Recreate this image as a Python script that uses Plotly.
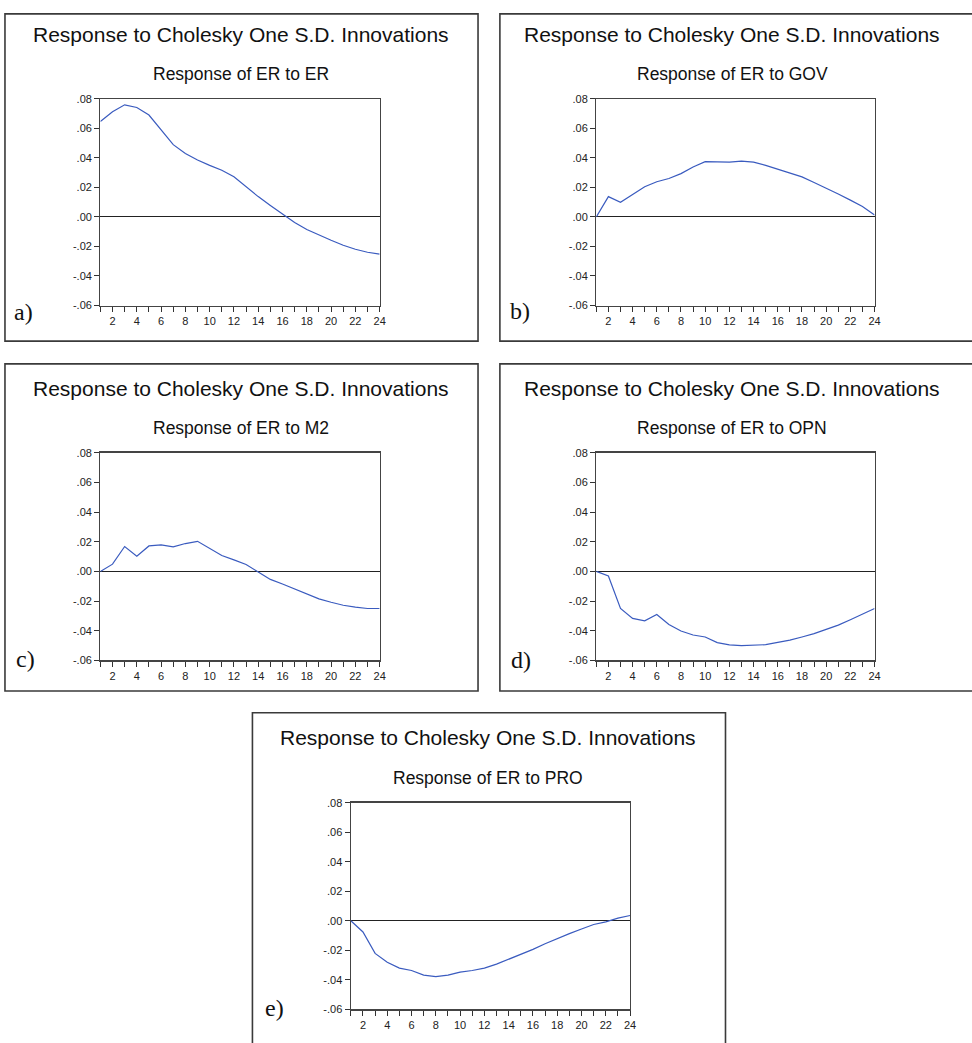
import plotly.graph_objects as go

# ---------------- data ----------------
periods = list(range(1, 25))

resp_er = [0.0647, 0.0713, 0.0760, 0.0742, 0.0691, 0.0590, 0.0490, 0.0430,
           0.0386, 0.0350, 0.0317, 0.0272, 0.0205, 0.0138, 0.0078, 0.0022,
           -0.0038, -0.0085, -0.0123, -0.0158, -0.0192, -0.0219, -0.0239, -0.0252]

resp_gov = [0.0000, 0.0138, 0.0100, 0.0150, 0.0205, 0.0239, 0.0261, 0.0294,
            0.0339, 0.0375, 0.0375, 0.0372, 0.0379, 0.0372, 0.0350, 0.0325,
            0.0301, 0.0272, 0.0234, 0.0196, 0.0156, 0.0114, 0.0071, 0.0014]

resp_m2 = [0.0000, 0.0049, 0.0168, 0.0103, 0.0172, 0.0179, 0.0165, 0.0188,
           0.0203, 0.0156, 0.0107, 0.0078, 0.0047, -0.0004, -0.0054, -0.0085,
           -0.0118, -0.0154, -0.0185, -0.0208, -0.0228, -0.0241, -0.0250, -0.0250]

resp_opn = [0.0000, -0.0031, -0.0250, -0.0317, -0.0333, -0.0290, -0.0358, -0.0402,
            -0.0429, -0.0442, -0.0480, -0.0496, -0.0500, -0.0496, -0.0494, -0.0478,
            -0.0463, -0.0442, -0.0420, -0.0391, -0.0362, -0.0326, -0.0290, -0.0250]

resp_pro = [0.0000, -0.0076, -0.0221, -0.0281, -0.0321, -0.0337, -0.0368, -0.0379,
            -0.0368, -0.0348, -0.0337, -0.0321, -0.0294, -0.0261, -0.0227, -0.0194,
            -0.0156, -0.0120, -0.0087, -0.0056, -0.0025, -0.0007, 0.0018, 0.0036]

series = [resp_er, resp_gov, resp_m2, resp_opn, resp_pro]
shock_names = ["ER", "GOV", "M2", "OPN", "PRO"]
panel_labels = ["a)", "b)", "c)", "d)", "e)"]
main_title = "Response to Cholesky One S.D. Innovations"

ytick_vals = [0.08, 0.06, 0.04, 0.02, 0.00, -0.02, -0.04, -0.06]
ytick_text = [".08", ".06", ".04", ".02", ".00", "-.02", "-.04", "-.06"]
xtick_vals = periods
xtick_text = [str(p) if p % 2 == 0 else "" for p in periods]

# ---------------- layout geometry (pixels) ----------------
W, H = 972, 1043
# plot area: (left, right, top, bottom)
plot_boxes = [(101, 382, 94, 303), (600, 880, 94, 303),
              (101, 382, 452, 662), (600, 880, 452, 662),
              (353, 634, 806, 1015)]
# outer frames: (left, right, top, bottom)
outer_boxes = [(5, 481, 8, 339), (503, 985, 8, 339),
               (5, 481, 362, 693), (503, 985, 362, 693),
               (254, 730, 715, 1055)]
# horizontal centre of the titles in each frame
title_cx = [242, 737, 242, 737, 491]
label_pos = [(24, 310), (523, 309), (26, 661), (524, 662), (276, 1014)]

def px(x):
    return x / W

def py(y):
    return 1 - y / H

fig = go.Figure()
layout = dict(
    width=W, height=H,
    margin=dict(l=0, r=0, t=0, b=0),
    paper_bgcolor="white", plot_bgcolor="white",
    showlegend=False,
    font=dict(family="Liberation Sans, Arial, sans-serif", color="#222"),
)
shapes = []
annotations = []

for i, (vals, name) in enumerate(zip(series, shock_names)):
    n = i + 1
    xa = "x" if n == 1 else f"x{n}"
    ya = "y" if n == 1 else f"y{n}"
    fig.add_trace(go.Scatter(x=periods, y=vals, mode="lines",
                             line=dict(color="#3a5bbf", width=1.2),
                             xaxis=xa, yaxis=ya, hoverinfo="skip"))
    l, r, t, b = plot_boxes[i]
    layout[f"xaxis{'' if n == 1 else n}"] = dict(
        domain=[px(l), px(r)], anchor=ya, range=[1, 24],
        tickmode="array", tickvals=xtick_vals, ticktext=xtick_text,
        ticks="outside", ticklen=5, tickwidth=1, tickcolor="#333",
        showline=True, linecolor="#444", linewidth=1.3, mirror=True,
        showgrid=False, zeroline=False,
        tickfont=dict(size=11, color="#222"),
    )
    layout[f"yaxis{'' if n == 1 else n}"] = dict(
        domain=[py(b), py(t)], anchor=xa, range=[-0.06, 0.08],
        tickmode="array", tickvals=ytick_vals, ticktext=ytick_text,
        ticks="outside", ticklen=5, tickwidth=1, tickcolor="#333",
        showline=True, linecolor="#444", linewidth=1.3, mirror=True,
        showgrid=False, zeroline=True, zerolinecolor="#222", zerolinewidth=1,
        tickfont=dict(size=11, color="#222"),
    )
    ol, orr, ot, ob = outer_boxes[i]
    shapes.append(dict(type="rect", xref="paper", yref="paper",
                       x0=px(ol), x1=px(orr), y0=py(ob), y1=py(ot),
                       line=dict(color="#3a3a3a", width=1.6)))
    cx = title_cx[i]
    annotations.append(dict(text=main_title, xref="paper", yref="paper",
                            x=px(cx), y=py(t - 65.5), xanchor="center", yanchor="middle",
                            showarrow=False,
                            font=dict(size=21, color="#111",
                                      family="Liberation Sans, Arial, sans-serif")))
    annotations.append(dict(text=f"Response of ER to {name}", xref="paper", yref="paper",
                            x=px(cx), y=py(t - 24.8), xanchor="center", yanchor="middle",
                            showarrow=False,
                            font=dict(size=17.5, color="#111",
                                      family="Liberation Sans, Arial, sans-serif")))
    lx, ly = label_pos[i]
    annotations.append(dict(text=panel_labels[i], xref="paper", yref="paper",
                            x=px(lx), y=py(ly), xanchor="center", yanchor="middle",
                            showarrow=False,
                            font=dict(size=24, color="#111",
                                      family="Liberation Serif, Times New Roman, serif")))

layout["shapes"] = shapes
layout["annotations"] = annotations
fig.update_layout(**layout)
fig.write_html(
    "out.html",
    config={"displayModeBar": False, "staticPlot": True},
    post_script=(
        "document.body.style.margin='0';"
        "document.body.style.overflow='hidden';"
        "var d=document.getElementById('{plot_id}');"
        "d.style.position='fixed';d.style.left='0px';d.style.top='0px';"
    ),
)
